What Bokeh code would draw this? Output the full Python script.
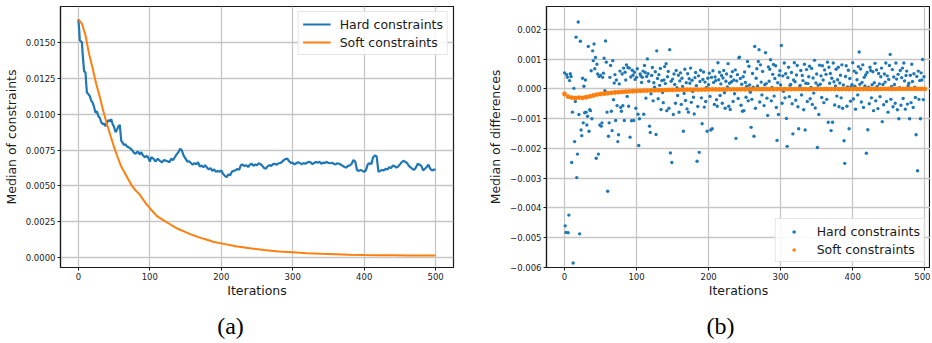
from bokeh.plotting import figure
from bokeh.layouts import row, column
from bokeh.models import Range1d, Legend, LegendItem, Label, CustomJSTickFormatter, FixedTicker
from bokeh.embed import file_html
from bokeh.resources import INLINE

# ---------------- data ----------------
# (a) median of constraints
hard_iters = [0, 1, 2, 3, 5, 6, 8, 10, 11, 12, 14, 16, 18, 20, 22, 24, 26, 28, 30, 32, 34, 36, 38,
              40, 42, 44, 46, 48, 50, 52, 54, 56, 58, 60, 62, 64, 66, 68, 70, 73, 76, 78, 80, 83,
              86, 88, 90, 93, 96, 98, 100, 102, 105, 108, 111, 114, 117, 120] + \
             [k / 10 for k in range(1250, 5001, 25)]
hard_constraints = [
    0.01660, 0.01600, 0.01515, 0.01510, 0.01500, 0.01420, 0.01300, 0.01290, 0.01210, 0.01150,
    0.01140, 0.01125, 0.01095, 0.01080, 0.01050, 0.01010, 0.01020, 0.00985, 0.00975, 0.00945,
    0.00930, 0.00935, 0.00915, 0.00940, 0.00960, 0.00950, 0.00965, 0.00930, 0.00910, 0.00875,
    0.00890, 0.00915, 0.00925, 0.00815, 0.00800, 0.00785, 0.00790, 0.00775, 0.00770, 0.00760,
    0.00745, 0.00730, 0.00725, 0.00740, 0.00720, 0.00735, 0.00715, 0.00700, 0.00710, 0.00695,
    0.00670, 0.00700, 0.00690, 0.00670, 0.00690, 0.00675, 0.00665, 0.00680,
    # 125 .. 500 every 2.5 iterations
    0.00672, 0.00665, 0.00690, 0.00680, 0.00700, 0.00720, 0.00735, 0.00760, 0.00745, 0.00710,
    0.00690, 0.00670, 0.00672, 0.00660, 0.00648, 0.00660, 0.00650, 0.00665, 0.00635, 0.00642,
    0.00630, 0.00645, 0.00628, 0.00615, 0.00625, 0.00605, 0.00615, 0.00598, 0.00605, 0.00598,
    0.00608, 0.00585, 0.00570, 0.00562, 0.00580, 0.00575, 0.00600, 0.00605, 0.00610, 0.00618,
    0.00612, 0.00645, 0.00650, 0.00638, 0.00645, 0.00632, 0.00648, 0.00655, 0.00640, 0.00650,
    0.00645, 0.00658, 0.00652, 0.00640, 0.00625, 0.00620, 0.00638, 0.00645, 0.00640, 0.00652,
    0.00655, 0.00648, 0.00658, 0.00660, 0.00668, 0.00680, 0.00688, 0.00690, 0.00672, 0.00660,
    0.00662, 0.00650, 0.00658, 0.00665, 0.00660, 0.00650, 0.00660, 0.00655, 0.00662, 0.00668,
    0.00665, 0.00652, 0.00660, 0.00668, 0.00662, 0.00668, 0.00655, 0.00662, 0.00660, 0.00668,
    0.00660, 0.00658, 0.00662, 0.00655, 0.00650, 0.00658, 0.00655, 0.00648, 0.00640, 0.00632,
    0.00628, 0.00640, 0.00643, 0.00655, 0.00680, 0.00670, 0.00610, 0.00605, 0.00612, 0.00605,
    0.00598, 0.00610, 0.00650, 0.00658, 0.00652, 0.00700, 0.00712, 0.00705, 0.00598, 0.00605,
    0.00612, 0.00608, 0.00620, 0.00615, 0.00630, 0.00625, 0.00642, 0.00638, 0.00628, 0.00635,
    0.00650, 0.00665, 0.00675, 0.00668, 0.00660, 0.00640, 0.00630, 0.00618, 0.00612, 0.00630,
    0.00655, 0.00648, 0.00640, 0.00608, 0.00620, 0.00632, 0.00648, 0.00620, 0.00608, 0.00615,
    0.00612,
]
soft_iters = [0, 5, 10, 15, 20, 25, 30, 35, 40, 45, 50, 55, 60, 65, 70, 75, 80, 85, 90, 95, 100,
              110, 120, 130, 140, 150, 160, 170, 180, 190, 200,
              220, 240, 260, 280, 300, 320, 340, 360, 380, 400, 420, 440, 460, 480, 500]
soft_constraints = [
    0.01660, 0.01630, 0.01550, 0.01420, 0.01320, 0.01210, 0.01120, 0.01020, 0.00930, 0.00850,
    0.00770, 0.00700, 0.00635, 0.00590, 0.00545, 0.00500, 0.00470, 0.00445, 0.00410, 0.00375,
    0.00345,
    0.00290, 0.00258, 0.00228, 0.00200, 0.00178, 0.00158, 0.00140, 0.00125, 0.00110, 0.00100,
    0.00080, 0.00066, 0.00054, 0.00044, 0.00038, 0.00032, 0.00027, 0.00024, 0.00021, 0.00019,
    0.00018, 0.00017, 0.00016, 0.00016, 0.00016,
]

# (b) median of differences, values in units of 1e-4
diff_iters = list(range(0, 500))
hard_diff_e4 = [
    5.4, -46.0, -48.2, 4.8, 3.9, -48.3, -42.4, 2.8, 5.1, 4.2,
    -24.7, -7.8, -58.5, 0.2, -17.7, -4.2, 17.4, -29.8, -21.9, 22.5,
    -8.6, -48.7, 16.0, -13.8, -15.7, 3.6, -11.4, 0.9, -8.0, 3.0,
    -7.8, -12.1, -9.2, 14.3, -14.2, -7.0, -7.3, 6.1, -10.0, 12.8,
    9.5, 15.1, 6.8, 10.6, -23.3, 8.3, 5.0, -21.9, 4.2, -12.1,
    4.5, -12.5, -11.4, 3.9, 5.3, 10.3, -0.6, 16.1, 9.0, -7.8,
    -34.4, -15.9, -11.4, 3.9, 7.9, -7.5, -14.0, 9.5, -3.6, 2.0,
    4.8, -10.6, 3.0, -5.6, -17.7, -15.4, 1.7, 6.0, -6.2, -7.5,
    5.0, -5.6, 7.0, -10.6, 5.6, 3.0, 8.1, -2.5, 7.2, -5.8,
    7.0, -16.2, 4.0, -10.7, 6.3, 4.6, -10.6, 5.6, 3.2, -6.5,
    3.9, 6.8, -8.5, -19.0, -10.0, 5.0, 4.4, 2.2, 3.9, 6.0,
    -8.5, 7.9, 5.5, -3.1, 4.2, 10.1, 5.1, 2.6, -12.5, -14.6,
    -1.6, 4.5, 7.2, -4.0, 2.1, 0.6, 5.8, -15.3, 12.8, 3.5,
    -3.3, 4.8, 1.2, 6.9, -6.9, 2.8, -1.2, -4.6, 3.0, 7.5,
    1.8, 8.5, -7.3, 4.1, 5.9, -6.5, 13.2, -21.5, 2.6, -24.7,
    3.3, -8.6, 5.0, 1.5, -4.8, 6.2, 0.4, -2.2, 4.6, -7.8,
    2.7, 5.4, -5.2, 3.6, 0.8, -14.2, -1.5, 6.6, -3.9, 2.1,
    -6.7, 5.1, -7.8, 3.4, 1.9, 7.0, -4.5, 2.9, -0.9, -2.8,
    -8.4, 3.8, 5.5, 1.1, -24.3, -5.9, 4.4, -21.3, 2.5, 6.3,
    -3.0, -11.7, 3.2, 5.7, -6.1, 2.3, -4.2, 0.5, -14.2, 3.6,
    1.4, 5.3, -2.5, -13.8, 3.9, -13.4, 6.1, 2.2, -5.2, 4.0,
    2.8, -3.6, -5.8, 8.8, 3.1, 5.6, -2.2, 1.7, 4.5, -4.8,
    3.7, 6.2, -1.3, -6.5, 2.6, 5.0, 0.7, 8.5, -5.8, 1.9,
    -6.9, 4.2, 2.4, 5.8, -4.2, 3.0, -1.6, 6.4, -16.6, 2.7,
    4.8, -3.2, 10.5, 10.7, 3.5, -5.5, 1.6, -7.5, 4.1, -7.3,
    5.7, 2.2, -2.8, 0.9, 9.2, -4.0, 7.6, 1.3, -1.1, -12.9,
    -3.5, 5.2, 0.6, -15.9, 14.3, -6.5, 3.6, 6.8, 1.0, 9.2,
    13.2, -4.4, 8.1, 2.3, -2.0, 5.9, 0.2, -5.6, 1.4, 12.2,
    1.8, -3.1, -8.9, 7.4, 2.6, 6.6, 9.8, -4.0, 0.5, 4.9,
    8.2, -2.4, 3.5, 7.8, -6.2, -17.3, 2.1, -8.6, 4.6, 6.1,
    1.3, 14.6, -4.8, 4.4, -0.8, 8.7, -3.0, 5.1, -9.9, -19.3,
    3.8, 7.3, -2.6, 1.2, 1.5, 5.5, -5.0, -15.1, 3.0, 8.8,
    2.4, -3.8, 4.7, 7.9, -6.0, -13.4, 0.4, 1.2, 6.2, -2.0,
    4.5, 2.8, -7.0, 8.3, -13.8, 1.9, 6.5, -4.2, 1.8, 4.1,
    7.6, -3.3, 0.5, 6.9, -5.2, 3.7, -1.4, 9.6, -6.4, 2.0,
    5.0, -19.7, 1.2, -8.6, 8.0, 1.6, 4.4, -2.9, 7.8, 3.0,
    -4.6, 6.4, 0.2, 4.9, -3.5, 9.0, -11.2, 7.3, 1.9, 5.2,
    -14.0, 3.6, -11.2, 8.7, 2.4, -5.4, 1.0, 6.6, -2.4, 3.1,
    7.3, -6.0, 2.0, 4.6, -3.0, 8.1, -6.5, 1.3, -17.4, -25.0,
    4.2, 7.8, -5.8, 0.7, 6.3, -13.4, 3.5, -4.1, 0.8, 1.4,
    8.8, -3.4, 6.0, 0.9, -6.8, 5.4, 3.1, -2.0, 7.5, 12.4,
    1.6, 6.7, -4.4, 2.2, 8.1, -6.2, 3.9, 1.0, 4.7, -21.6,
    5.5, -13.7, 0.6, -5.0, 7.3, 6.2, -3.0, 1.4, 5.8, -7.3,
    2.1, 8.6, -4.0, 6.4, 0.8, -6.6, 5.2, 1.7, -2.6, 4.1,
    7.0, -11.0, 1.5, -5.3, 5.0, 2.3, 8.7, -4.2, 4.4, -7.8,
    3.2, 7.9, 11.6, -3.5, 0.8, 6.5, -6.0, 4.0, 1.5, -4.8,
    8.7, 3.3, -7.0, 4.9, -10.0, 0.4, 6.2, -5.5, 3.8, 7.0,
    -3.2, 8.7, 2.7, -6.8, 4.5, 6.0, -5.1, 1.1, 1.9, -10.0,
    4.6, -4.6, 8.3, 2.5, -6.2, 5.1, 0.6, -2.9, -15.4, 4.2,
    -27.5, 6.0, -3.5, 2.8, -10.0, 5.4, 3.0, 9.9, -3.6, 4.1,
]
soft_diff_iters = list(range(0, 501, 5))
soft_diff_e4 = [
    -1.7, -2.6, -2.9, -3.1, -2.9, -3.0, -2.8, -2.5, -2.2, -1.9,
    -1.7, -1.6, -1.45, -1.3, -1.2, -1.1, -1.0, -0.92, -0.85, -0.78,
    -0.7, -0.65, -0.6, -0.55, -0.5, -0.47, -0.44, -0.41, -0.38, -0.35,
    -0.33, -0.31, -0.29, -0.27, -0.25, -0.24, -0.22, -0.21, -0.2, -0.19,
    -0.18, -0.17, -0.16, -0.15, -0.15, -0.14, -0.13, -0.12, -0.12, -0.11,
    -0.1, -0.1, -0.09, -0.09, -0.08, -0.08, -0.07, -0.07, -0.07, -0.06,
    -0.06, -0.06, -0.05, -0.05, -0.05, -0.05, -0.04, -0.04, -0.04, -0.04,
    -0.04, -0.03, -0.03, -0.03, -0.03, -0.03, -0.03, -0.03, -0.02, -0.02,
    -0.02, -0.02, -0.02, -0.02, -0.02, -0.02, -0.02, -0.02, -0.01, -0.01,
    -0.01, -0.01, -0.01, -0.01, -0.01, -0.01, -0.01, -0.01, -0.01, -0.01,
    -0.01,
]
x_ticks = [0, 100, 200, 300, 400, 500]
a_y_ticks = [0.0, 0.0025, 0.0050, 0.0075, 0.0100, 0.0125, 0.0150]
b_y_ticks = [-0.006, -0.005, -0.004, -0.003, -0.002, -0.001, 0.0, 0.001, 0.002]
captions = ["(a)", "(b)"]

hard_diff = [v * 1e-4 for v in hard_diff_e4]
soft_diff = [v * 1e-4 for v in soft_diff_e4]

# ---------------- styling helpers ----------------
FONT = "DejaVu Sans"
BLUE = "#1f77b4"
ORANGE = "#ff7f0e"
INK = "#1a1a1a"
H = 304          # plot panels
CAP_H = 39       # caption strip
WA, WB = 485, 445


def fmt(digits):
    return CustomJSTickFormatter(code=(
        "const t = Math.abs(tick) < 1e-12 ? 0 : tick;"
        "return t.toFixed(%d).replace('-', '\u2212');" % digits))


def style(p):
    p.background_fill_color = "white"
    p.border_fill_color = "white"
    p.outline_line_color = INK
    p.outline_line_width = 1.2
    for ax in (p.xaxis[0], p.yaxis[0]):
        ax.axis_line_color = INK
        ax.axis_line_width = 1.2
        ax.major_tick_line_color = INK
        ax.major_tick_out = 3
        ax.major_tick_in = 0
        ax.minor_tick_line_color = None
        ax.major_label_text_font = FONT
        ax.major_label_text_font_size = "8.5px"
        ax.major_label_text_color = INK
        ax.major_label_standoff = 2
        ax.axis_label_text_font = FONT
        ax.axis_label_text_font_size = "12.5px"
        ax.axis_label_text_font_style = "normal"
        ax.axis_label_text_color = INK
    p.xaxis[0].axis_label_standoff = 0
    p.yaxis[0].axis_label_standoff = 4
    for g in p.grid:
        g.grid_line_color = "#c6c6c6"
        g.grid_line_width = 1.3


def make_legend(items, location, glyph_h):
    lg = Legend(items=items, location=location)
    lg.margin = 5
    lg.padding = 4
    lg.spacing = 2
    lg.glyph_width = 28
    lg.glyph_height = glyph_h
    lg.label_height = 16
    lg.label_standoff = 9
    lg.label_text_font = FONT
    lg.label_text_font_size = "12.5px"
    lg.label_text_color = INK
    lg.border_line_color = "#cccccc"
    lg.border_line_width = 1
    lg.background_fill_alpha = 0.85
    return lg


# ---------------- (a) ----------------
pa = figure(width=WA, height=H, output_backend="svg", toolbar_location=None,
            x_range=Range1d(-25, 525), y_range=Range1d(-0.00068, 0.0175),
            min_border_left=51, min_border_right=32, min_border_top=6, min_border_bottom=37)
style(pa)
pa.xaxis[0].ticker = FixedTicker(ticks=x_ticks)
pa.yaxis[0].ticker = FixedTicker(ticks=a_y_ticks)
pa.yaxis[0].formatter = fmt(4)
pa.xaxis[0].axis_label = "Iterations"
pa.yaxis[0].axis_label = "Median of constraints"
ra1 = pa.line(hard_iters, hard_constraints, line_color=BLUE, line_width=2.2)
ra2 = pa.line(soft_iters, soft_constraints, line_color=ORANGE, line_width=2.0)
pa.add_layout(make_legend([LegendItem(label="Hard constraints", renderers=[ra1]),
                           LegendItem(label="Soft constraints", renderers=[ra2])], "top_right", 16))

# ---------------- (b) ----------------
pb = figure(width=WB, height=H, output_backend="svg", toolbar_location=None,
            x_range=Range1d(-25, 508), y_range=Range1d(-0.006, 0.00277),
            min_border_left=55, min_border_right=0, min_border_top=6, min_border_bottom=37)
style(pb)
pb.xaxis[0].ticker = FixedTicker(ticks=x_ticks)
pb.yaxis[0].ticker = FixedTicker(ticks=b_y_ticks)
pb.yaxis[0].formatter = fmt(3)
pb.xaxis[0].axis_label = "Iterations"
pb.yaxis[0].axis_label = "Median of differences"
rb1 = pb.scatter(diff_iters, hard_diff, size=3.4, fill_color=BLUE, line_color=None)
rb2 = pb.scatter(soft_diff_iters, soft_diff, size=4.8, fill_color=ORANGE, line_color=None)
pb.add_layout(make_legend([LegendItem(label="Hard constraints", renderers=[rb1]),
                           LegendItem(label="Soft constraints", renderers=[rb2])], "bottom_right", 9))

# ---------------- caption strip ----------------
cap = figure(width=WA + WB, height=CAP_H, output_backend="svg", toolbar_location=None,
             x_range=Range1d(0, WA + WB), y_range=Range1d(0, CAP_H),
             x_axis_type=None, y_axis_type=None,
             min_border_left=0, min_border_right=0, min_border_top=0, min_border_bottom=0)
cap.outline_line_color = None
cap.grid.visible = False
for text, cx in zip(captions, [230, 720]):
    cap.add_layout(Label(x=cx, y=18, text=text, text_font="Liberation Serif",
                         text_font_size="24px", text_align="center",
                         text_baseline="middle", text_color="black"))

layout = column(row(pa, pb), cap)
open("out.html", "w").write(file_html(layout, INLINE))
